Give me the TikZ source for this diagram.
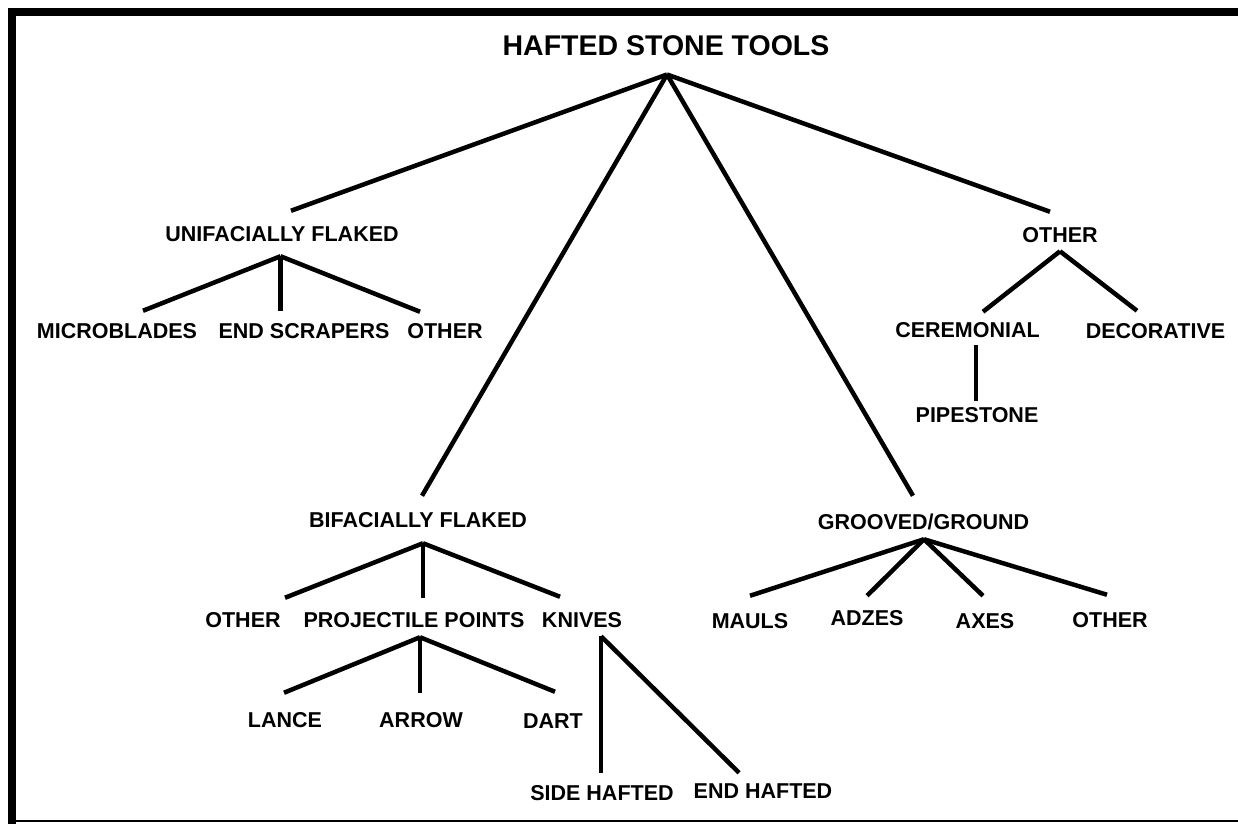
\documentclass[tikz,border=0pt]{standalone}
\usepackage{fontspec}
\setmainfont{Liberation Sans}
\usepackage{tikz}

\begin{document}
\begin{tikzpicture}[x=1pt, y=-1pt, line width=4.5pt,
  main/.style = {font=\bfseries\fontsize{21.5}{21.5}\selectfont, inner sep=0pt, text height=15pt, text depth=0pt},
  head/.style = {font=\bfseries\fontsize{28.5}{28.5}\selectfont, inner sep=0pt, text height=20.5pt, text depth=0pt}]
\useasboundingbox (0,0) rectangle (1238,824);
\fill (8,8) rectangle (1238,16);
\fill (8,8) rectangle (16,824);
\draw[line width=2pt] (16,821) -- (1238,821);

\node[head] (root) at (666,45.5) {HAFTED STONE TOOLS};

\node[main] (uni) at (282,234) {UNIFACIALLY FLAKED};
\node[main] (bif) at (418,519.5) {BIFACIALLY FLAKED};
\node[main] (grnd) at (923.5,522) {GROOVED/GROUND};
\node[main] (oth) at (1060,234.5) {OTHER};

\node[main] (micro) at (117,331) {MICROBLADES};
\node[main] (scrap) at (304,331) {END SCRAPERS};
\node[main] (uoth) at (445,331) {OTHER};

\node[main] (both) at (243,620) {OTHER};
\node[main] (proj) at (414,620) {PROJECTILE POINTS};
\node[main] (knife) at (582,620) {KNIVES};
\node[main] (lance) at (285,719.5) {LANCE};
\node[main] (arrow) at (421,719.5) {ARROW};
\node[main] (dart) at (553,720.5) {DART};
\node[main] (side) at (602,793) {SIDE HAFTED};
\node[main] (endh) at (763,790.5) {END HAFTED};

\node[main] (mauls) at (750,620.5) {MAULS};
\node[main] (adzes) at (867,617.5) {ADZES};
\node[main] (axes) at (985,620.5) {AXES};
\node[main] (goth) at (1110,620) {OTHER};

\node[main] (cer) at (967.5,329.5) {CEREMONIAL};
\node[main] (deco) at (1155.5,330.5) {DECORATIVE};
\node[main] (pipe) at (977,414.5) {PIPESTONE};

\draw ([shift={(1,16.5)}]root.south) -- ([shift={(9,-13.5)}]uni.north);
\draw ([shift={(1,16.5)}]root.south) -- ([shift={(4,-14)}]bif.north);
\draw ([shift={(1,16.5)}]root.south) -- ([shift={(-10.5,-16.5)}]grnd.north);
\draw ([shift={(1,16.5)}]root.south) -- ([shift={(-10,-13)}]oth.north);

\draw ([shift={(-1.5,12.5)}]uni.south) -- ([shift={(26,-10.5)}]micro.north);
\draw ([shift={(-1.5,12.5)}]uni.south) -- ([shift={(-23.5,-10.5)}]scrap.north);
\draw ([shift={(-1.5,12.5)}]uni.south) -- ([shift={(-25,-9.5)}]uoth.north);

\draw ([shift={(5,14)}]bif.south) -- ([shift={(42,-12.5)}]both.north);
\draw ([shift={(5,14)}]bif.south) -- ([shift={(9,-12.5)}]proj.north);
\draw ([shift={(5,14)}]bif.south) -- ([shift={(-22,-13.5)}]knife.north);

\draw ([shift={(6,7.5)}]proj.south) -- ([shift={(-1,-17)}]lance.north);
\draw ([shift={(6,7.5)}]proj.south) -- ([shift={(-1,-17)}]arrow.north);
\draw ([shift={(6,7.5)}]proj.south) -- ([shift={(2,-19)}]dart.north);

\draw ([shift={(19,6.5)}]knife.south) -- ([shift={(-1,-10.5)}]side.north);
\draw ([shift={(19,6.5)}]knife.south) -- ([shift={(-24,-8)}]endh.north);

\draw ([shift={(0.5,7.5)}]grnd.south) -- ([shift={(0,-15)}]mauls.north);
\draw ([shift={(0.5,7.5)}]grnd.south) -- ([shift={(0,-12)}]adzes.north);
\draw ([shift={(0.5,7.5)}]grnd.south) -- ([shift={(-2,-15)}]axes.north);
\draw ([shift={(0.5,7.5)}]grnd.south) -- ([shift={(-3,-15.5)}]goth.north);

\draw ([shift={(0,7)}]oth.south) -- ([shift={(15.5,-8)}]cer.north);
\draw ([shift={(0,7)}]oth.south) -- ([shift={(-18.5,-10)}]deco.north);
\draw ([shift={(8.5,6)}]cer.south) -- ([shift={(-1,-4)}]pipe.north);

\end{tikzpicture}
\end{document}
